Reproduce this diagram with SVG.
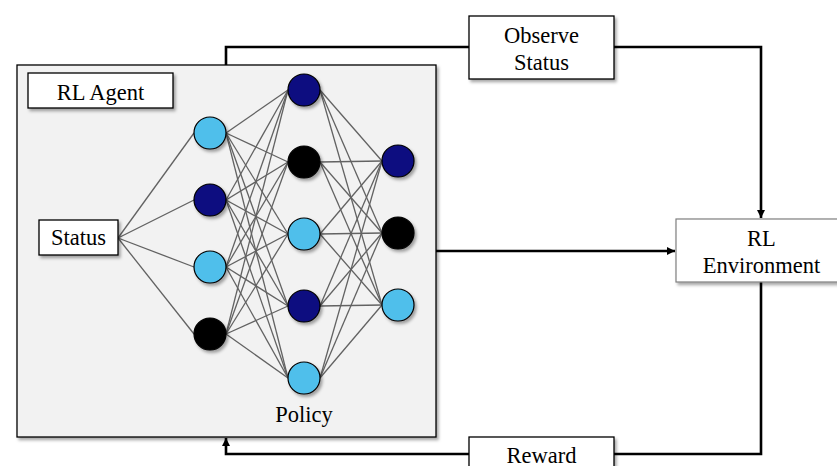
<svg xmlns="http://www.w3.org/2000/svg" width="837" height="466" viewBox="0 0 837 466">
<defs>
<filter id="sh" x="-10%" y="-10%" width="130%" height="140%">
<feDropShadow dx="2" dy="2.5" stdDeviation="1.5" flood-color="#000" flood-opacity="0.35"/>
</filter>
<marker id="ah" viewBox="0 0 10 10" refX="10" refY="5" markerWidth="8" markerHeight="8" markerUnits="userSpaceOnUse" orient="auto">
<path d="M0,0 L10,5 L0,10 Z" fill="#000"/>
</marker>
<style>
text{font-family:"Liberation Serif","Times New Roman",serif;font-size:22.5px;fill:#000;text-anchor:middle}
.box{fill:#fff;stroke:#000;stroke-width:1.3;filter:url(#sh)}
.conn{fill:none;stroke:#000;stroke-width:2.6}
.nn line{stroke:#626262;stroke-width:1.3}
.c{stroke:#000;stroke-width:1.2;filter:url(#sh)}
.lb{fill:#50BFEB}.nv{fill:#0A0A80}.bk{fill:#000}
</style>
</defs>
<g id="connectors">
<polyline class="conn" points="226,65 226,47 469,47"/>
<polyline class="conn" points="614,47 761,47 761,218" marker-end="url(#ah)"/>
<line class="conn" x1="436" y1="251" x2="675" y2="251" marker-end="url(#ah)"/>
<polyline class="conn" points="761,282 761,454 614,454"/>
<polyline class="conn" points="469,454 226,454 226,438" marker-end="url(#ah)"/>
</g>
<g id="rl-agent">
<rect x="17" y="65" width="419" height="372" fill="#f2f2f2" stroke="#000" stroke-width="1.3" filter="url(#sh)"/>
<rect class="box" x="28" y="73" width="145" height="35"/>
<text x="100.5" y="99.5">RL Agent</text>
</g>
<g id="nn-edges" class="nn">
<line x1="118" y1="238" x2="194" y2="133"/><line x1="118" y1="238" x2="194" y2="200"/><line x1="118" y1="238" x2="194" y2="267"/><line x1="118" y1="238" x2="194" y2="334"/>
<line x1="226" y1="133" x2="288" y2="90"/><line x1="226" y1="133" x2="288" y2="162"/><line x1="226" y1="133" x2="288" y2="234"/><line x1="226" y1="133" x2="288" y2="306"/><line x1="226" y1="133" x2="288" y2="378"/>
<line x1="226" y1="200" x2="288" y2="90"/><line x1="226" y1="200" x2="288" y2="162"/><line x1="226" y1="200" x2="288" y2="234"/><line x1="226" y1="200" x2="288" y2="306"/><line x1="226" y1="200" x2="288" y2="378"/>
<line x1="226" y1="267" x2="288" y2="90"/><line x1="226" y1="267" x2="288" y2="162"/><line x1="226" y1="267" x2="288" y2="234"/><line x1="226" y1="267" x2="288" y2="306"/><line x1="226" y1="267" x2="288" y2="378"/>
<line x1="226" y1="334" x2="288" y2="90"/><line x1="226" y1="334" x2="288" y2="162"/><line x1="226" y1="334" x2="288" y2="234"/><line x1="226" y1="334" x2="288" y2="306"/><line x1="226" y1="334" x2="288" y2="378"/>
<line x1="320" y1="90" x2="382" y2="161"/><line x1="320" y1="90" x2="382" y2="233"/><line x1="320" y1="90" x2="382" y2="305"/>
<line x1="320" y1="162" x2="382" y2="161"/><line x1="320" y1="162" x2="382" y2="233"/><line x1="320" y1="162" x2="382" y2="305"/>
<line x1="320" y1="234" x2="382" y2="161"/><line x1="320" y1="234" x2="382" y2="233"/><line x1="320" y1="234" x2="382" y2="305"/>
<line x1="320" y1="306" x2="382" y2="161"/><line x1="320" y1="306" x2="382" y2="233"/><line x1="320" y1="306" x2="382" y2="305"/>
<line x1="320" y1="378" x2="382" y2="161"/><line x1="320" y1="378" x2="382" y2="233"/><line x1="320" y1="378" x2="382" y2="305"/>
</g>
<g id="status">
<rect class="box" x="39" y="220" width="79" height="35"/>
<text x="78.5" y="245">Status</text>
</g>
<g id="layer1">
<circle class="c lb" cx="210" cy="133" r="16"/>
<circle class="c nv" cx="210" cy="200" r="16"/>
<circle class="c lb" cx="210" cy="267" r="16"/>
<circle class="c bk" cx="210" cy="334" r="16"/>
</g>
<g id="layer2">
<circle class="c nv" cx="304" cy="90" r="16"/>
<circle class="c bk" cx="304" cy="162" r="16"/>
<circle class="c lb" cx="304" cy="234" r="16"/>
<circle class="c nv" cx="304" cy="306" r="16"/>
<circle class="c lb" cx="304" cy="378" r="16"/>
</g>
<g id="layer3">
<circle class="c nv" cx="398" cy="161" r="16"/>
<circle class="c bk" cx="398" cy="233" r="16"/>
<circle class="c lb" cx="398" cy="305" r="16"/>
</g>
<g id="policy"><text x="304" y="421.5">Policy</text></g>
<g id="observe-status">
<rect class="box" x="469" y="16" width="145" height="63"/>
<text x="541.5" y="42.5">Observe</text>
<text x="541.5" y="69.5">Status</text>
</g>
<g id="rl-environment">
<rect x="676" y="219" width="172" height="63" fill="#fff" stroke="#7f7f7f" stroke-width="1.2" filter="url(#sh)"/>
<text x="761.5" y="245.5">RL</text>
<text x="761.5" y="272.5">Environment</text>
</g>
<g id="reward">
<rect class="box" x="469" y="437" width="145" height="40"/>
<text x="541.5" y="463">Reward</text>
</g>
</svg>
